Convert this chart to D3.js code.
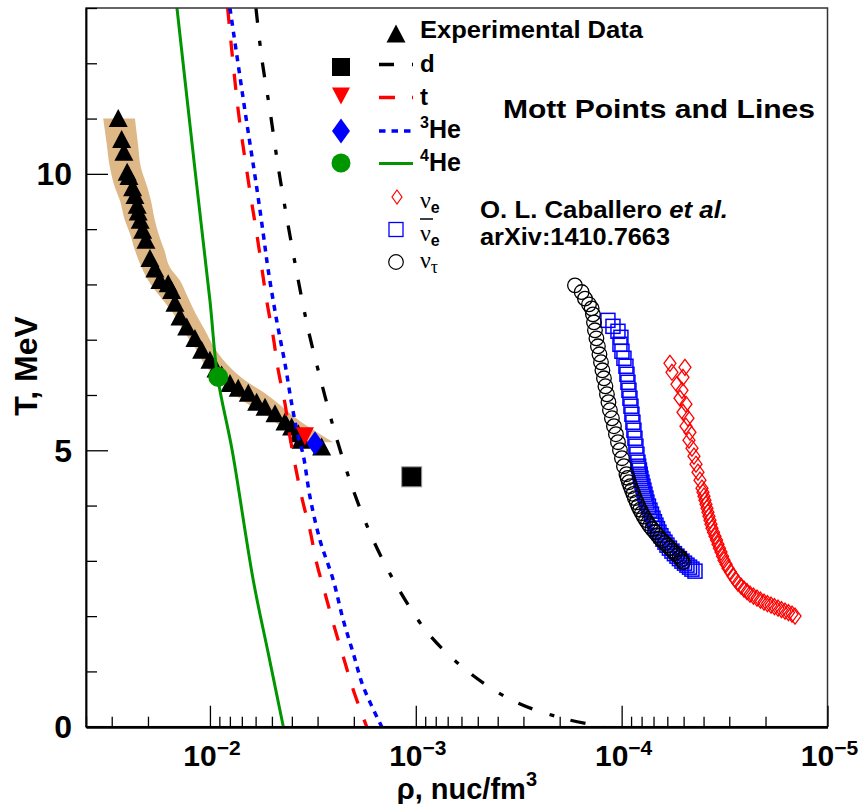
<!DOCTYPE html>
<html><head><meta charset="utf-8">
<script src="https://cdn.jsdelivr.net/npm/d3@7"></script>
<style>
body{margin:0;background:#fff}
svg{display:block}
text{font-family:"Liberation Sans",Arial,Helvetica,sans-serif;font-weight:bold;fill:#000}
</style>
</head><body>
<svg id="c" width="861" height="804"></svg>
<script>
// ---------------- DATA ----------------
// Experimental data (triangles): density rho [nuc/fm^3], temperature T [MeV]
const expRho = [0.02789,0.02685,0.02618,0.02524,0.02474,0.02374,0.02314,0.02256,0.02231,0.02182,0.02123,0.02046,0.01956,0.01851,0.01750,0.01595,0.01535,0.01479,0.01398,0.01297,0.01183,0.01097,0.0100,0.00935,0.00877,0.00799,0.00729,0.00651,0.00593,0.00540,0.00483,0.00432,0.00401,0.00372,0.003612,0.002866];
const expT   = [11.0,10.62,10.39,10.03,9.95,9.75,9.61,9.43,9.31,9.16,8.98,8.80,8.47,8.28,8.07,8.01,7.89,7.66,7.41,7.23,7.02,6.81,6.63,6.47,6.36,6.21,6.12,6.03,5.87,5.78,5.66,5.51,5.42,5.30,5.18,5.06];

// Error band around experimental data
const bandT       = [11.0,10.549,10.116,9.754,9.519,9.158,8.923,8.616,8.308,8.073,7.784,7.477,7.170,6.808,6.501,6.266,6.031,5.850,5.669,5.489,5.362,5.236,5.146];
const bandRhoHigh = [0.03299,0.03176,0.03061,0.02894,0.02737,0.02588,0.02447,0.02314,0.02147,0.01994,0.01750,0.01508,0.01348,0.01160,0.01038,0.008941,0.007706,0.006632,0.005508,0.004741,0.004239,0.003937,0.003653];
const bandRhoLow  = [0.02314,0.02238,0.02164,0.02012,0.01935,0.01851,0.01780,0.01664,0.01564,0.01399,0.01286,0.01176,0.01057,0.009350,0.007995,0.006760,0.005406,0.004673,0.004087,0.003532,0.003124,0.002762,0.002517];

// Mott points [rho, T]
const mottD   = [0.001047, 4.52];
const mottT   = [0.003455, 5.254];
const mottHe3 = [0.003088, 5.127];
const mottHe4 = [0.009113, 6.326];

// Mott lines [rho, T]
const lineD = [[0.005977,13.0],[0.005609,12.109],[0.005110,11.145],[0.004657,10.121],[0.004211,9.158],[0.003749,8.133],[0.003329,7.179],[0.002866,6.206],[0.002442,5.254],[0.002026,4.309],[0.001609,3.374],[0.001216,2.501],[0.000870,1.688],[0.000556,0.994],[0.0003296,0.452],[0.0001848,0.134],[0.0001227,0.0]];
const lineT = [[0.008203,13.0],[0.007287,11.145],[0.006514,9.88],[0.005824,8.737],[0.005302,7.712],[0.004925,7.049],[0.004657,6.447],[0.004320,5.845],[0.004086,5.241],[0.003584,4.157],[0.003266,3.555],[0.003031,2.959],[0.002762,2.416],[0.002517,1.869],[0.002251,1.265],[0.002012,0.663],[0.001732,0.0]];
const lineHe3 = [[0.007994,13.0],[0.006760,11.145],[0.005931,9.76],[0.005508,8.917],[0.005208,8.254],[0.004741,7.35],[0.004320,6.568],[0.004009,5.845],[0.003723,5.241],[0.003521,4.911],[0.003266,4.157],[0.002920,3.374],[0.002517,2.651],[0.002251,1.928],[0.002012,1.327],[0.001799,0.723],[0.001464,0.0]];
const lineHe4 = [[0.01446,13.0],[0.01176,10.0],[0.0100,7.71],[0.00918,6.33],[0.0078,5.0],[0.00616,2.65],[0.00521,1.33],[0.0044,0.0]];

// Caballero et al. neutrino sphere points [rho, T]
const nuE = [[0.5826e-4,6.573],[0.5696e-4,6.411],[0.4925e-4,6.501],[0.5036e-4,6.320],[0.5386e-4,6.194],[0.5093e-4,6.085],[0.5208e-4,5.941],[0.4871e-4,5.833],[0.5036e-4,5.688],[0.4763e-4,5.580],[0.4871e-4,5.435],[0.4657e-4,5.326],[0.4710e-4,5.182],[0.4554e-4,5.037],[0.4453e-4,4.893],[0.4355e-4,4.748],[0.4258e-4,4.604],[0.4164e-4,4.459],[0.4072e-4,4.314],[0.4027e-4,4.242],[0.3982e-4,4.170],[0.3938e-4,4.097],[0.3894e-4,4.025],[0.3851e-4,3.953],[0.3808e-4,3.881],[0.3766e-4,3.808],[0.3724e-4,3.736],[0.3682e-4,3.663],[0.3641e-4,3.591],[0.358e-4,3.519],[0.3521e-4,3.447],[0.346e-4,3.375],[0.3404e-4,3.302],[0.335e-4,3.23],[0.3292e-4,3.158],[0.3237e-4,3.085],[0.3183e-4,3.013],[0.311e-4,2.94],[0.3044e-4,2.868],[0.296e-4,2.796],[0.2878e-4,2.724],[0.280e-4,2.66],[0.2722e-4,2.597],[0.263e-4,2.543],[0.2544e-4,2.489],[0.246e-4,2.443],[0.2379e-4,2.398],[0.229e-4,2.362],[0.2200e-4,2.326],[0.2117e-4,2.29],[0.2035e-4,2.254],[0.1958e-4,2.227],[0.1881e-4,2.200],[0.181e-4,2.172],[0.1739e-4,2.145],[0.1673e-4,2.118],[0.1608e-4,2.091],[0.1547e-4,2.064],[0.1487e-4,2.037],[0.1438e-4,2.001]];
const nuEbar = [[1.166e-4,7.350],[1.102e-4,7.242],[1.042e-4,7.152],[1.008e-4,7.043],[1.019e-4,6.917],[0.9966e-4,6.791],[0.9746e-4,6.664],[0.9530e-4,6.520],[0.9424e-4,6.375],[0.9320e-4,6.230],[0.9216e-4,6.086],[0.9113e-4,5.941],[0.9012e-4,5.797],[0.8913e-4,5.652],[0.8814e-4,5.507],[0.8716e-4,5.363],[0.8619e-4,5.218],[0.8524e-4,5.074],[0.8429e-4,4.929],[0.8334e-4,4.785],[0.8265e-4,4.712],[0.8195e-4,4.640],[0.8127e-4,4.567],[0.8059e-4,4.495],[0.797e-4,4.423],[0.7881e-4,4.351],[0.7794e-4,4.278],[0.7707e-4,4.206],[0.762e-4,4.134],[0.7537e-4,4.062],[0.741e-4,3.99],[0.7286e-4,3.917],[0.7165e-4,3.845],[0.7045e-4,3.772],[0.693e-4,3.708],[0.6812e-4,3.645],[0.670e-4,3.582],[0.6589e-4,3.519],[0.6445e-4,3.455],[0.6300e-4,3.392],[0.616e-4,3.338],[0.6024e-4,3.284],[0.586e-4,3.23],[0.5696e-4,3.176],[0.554e-4,3.13],[0.5386e-4,3.085],[0.524e-4,3.04],[0.5093e-4,2.995],[0.495e-4,2.958],[0.4816e-4,2.922],[0.468e-4,2.886],[0.4554e-4,2.850],[0.4403e-4,2.814]];
const nuTau = [[1.686e-4,7.983],[1.564e-4,7.862],[1.507e-4,7.743],[1.441e-4,7.640],[1.399e-4,7.567],[1.379e-4,7.459],[1.363e-4,7.314],[1.348e-4,7.170],[1.326e-4,7.025],[1.304e-4,6.881],[1.282e-4,6.736],[1.260e-4,6.592],[1.240e-4,6.447],[1.219e-4,6.302],[1.199e-4,6.158],[1.179e-4,6.013],[1.159e-4,5.869],[1.140e-4,5.724],[1.115e-4,5.579],[1.090e-4,5.435],[1.066e-4,5.290],[1.042e-4,5.146],[1.019e-4,5.001],[0.9966e-4,4.857],[0.9746e-4,4.712],[0.9477e-4,4.567],[0.935e-4,4.50],[0.9216e-4,4.423],[0.907e-4,4.35],[0.8913e-4,4.278],[0.877e-4,4.21],[0.8619e-4,4.134],[0.845e-4,4.06],[0.8287e-4,3.989],[0.813e-4,3.925],[0.7969e-4,3.862],[0.780e-4,3.80],[0.7619e-4,3.736],[0.745e-4,3.68],[0.7286e-4,3.627],[0.709e-4,3.573],[0.6890e-4,3.519],[0.670e-4,3.465],[0.6515e-4,3.410],[0.634e-4,3.365],[0.6161e-4,3.320],[0.599e-4,3.275],[0.5826e-4,3.230],[0.566e-4,3.185],[0.5508e-4,3.139],[0.536e-4,3.10],[0.5208e-4,3.067],[0.512e-4,3.02],[0.5036e-4,2.977]];

// Axis ticks
const xMajor = [1e-2,1e-3,1e-4,1e-5];
const xMinor = [0.04,0.03,0.02,9e-3,8e-3,7e-3,6e-3,5e-3,4e-3,3e-3,2e-3,9e-4,8e-4,7e-4,6e-4,5e-4,4e-4,3e-4,2e-4,9e-5,8e-5,7e-5,6e-5,5e-5,4e-5,3e-5,2e-5];
const yMajor = [0,5,10];
const yMinor = [1,2,3,4,6,7,8,9,11,12,13];

// ---------------- DRAW ----------------
const svg = d3.select("#c");
const L=86, R=827.5, T0=8, B=726.7;
const x = d3.scaleLog().domain([0.04,1e-5]).range([L,R]);
const y = d3.scaleLinear().domain([0,13]).range([B,T0]);

svg.append("defs").append("clipPath").attr("id","clip")
  .append("rect").attr("x",L).attr("y",T0).attr("width",R-L).attr("height",B-T0);
const plot = svg.append("g").attr("clip-path","url(#clip)");

// frame
svg.append("rect").attr("x",L).attr("y",T0).attr("width",R-L).attr("height",B-T0)
  .attr("fill","none").attr("stroke","#333").attr("stroke-width",1.5);

// band
const band = bandT.map((t,i)=>({T:t,hi:bandRhoHigh[i],lo:bandRhoLow[i]}));
plot.append("path").datum(band)
  .attr("d", d3.area().y(d=>y(d.T)).x0(d=>x(d.hi)).x1(d=>x(d.lo)).curve(d3.curveMonotoneY))
  .attr("fill","#deb887");

// experimental triangles
const triUp = (cx,cy,w,h)=>`M${cx},${cy-h/2-1}L${cx+w/2},${cy+h/2}L${cx-w/2},${cy+h/2}Z`;
plot.selectAll("path.exp").data(expRho.map((r,i)=>[r,expT[i]])).join("path")
  .attr("class","exp").attr("d",d=>triUp(x(d[0]),y(d[1]),19,17)).attr("fill","#000");

// Mott lines
const lg = d3.line().x(d=>x(d[0])).y(d=>y(d[1])).curve(d3.curveCatmullRom);
plot.append("path").datum(lineHe4).attr("d",lg).attr("fill","none").attr("stroke","#009600").attr("stroke-width",3);
plot.append("path").datum(lineT).attr("d",lg).attr("fill","none").attr("stroke","#ff0000").attr("stroke-width",3.3).attr("stroke-dasharray","16,17");
plot.append("path").datum(lineHe3).attr("d",lg).attr("fill","none").attr("stroke","#0000ff").attr("stroke-width",3.5).attr("stroke-dasharray","6,6");
plot.append("path").datum(lineD).attr("d",lg).attr("fill","none").attr("stroke","#000").attr("stroke-width",3.3).attr("stroke-dasharray","15,18,5,17");

// neutrino markers
const diamond = (cx,cy,w,h)=>`M${cx},${cy-h/2}L${cx+w/2},${cy}L${cx},${cy+h/2}L${cx-w/2},${cy}Z`;
plot.selectAll("rect.nueb").data(nuEbar).join("rect").attr("class","nueb")
  .attr("x",d=>x(d[0])-7).attr("y",d=>y(d[1])-7).attr("width",14).attr("height",14)
  .attr("fill","none").attr("stroke","#0000ff").attr("stroke-width",1.5);
plot.selectAll("circle.nut").data(nuTau).join("circle").attr("class","nut")
  .attr("cx",d=>x(d[0])).attr("cy",d=>y(d[1])).attr("r",7.3)
  .attr("fill","none").attr("stroke","#000").attr("stroke-width",1.3);
plot.selectAll("path.nue").data(nuE).join("path").attr("class","nue")
  .attr("d",d=>diamond(x(d[0]),y(d[1]),12,16))
  .attr("fill","none").attr("stroke","#ff0000").attr("stroke-width",1.3);

// Mott points
const triDown = (cx,cy,w,h)=>`M${cx-w/2},${cy-h/2}L${cx+w/2},${cy-h/2}L${cx},${cy+h/2}Z`;
plot.append("rect").attr("x",x(mottD[0])-10).attr("y",y(mottD[1])-10).attr("width",20).attr("height",20)
  .attr("fill","#000").attr("stroke","#999").attr("stroke-width",1);
plot.append("path").attr("d",triDown(x(mottT[0]),y(mottT[1]),18,18)).attr("fill","#ff0000");
plot.append("path").attr("d",diamond(x(mottHe3[0]),y(mottHe3[1]),17,24)).attr("fill","#0000ff");
plot.append("circle").attr("cx",x(mottHe4[0])).attr("cy",y(mottHe4[1])).attr("r",10).attr("fill","#009600");

// axes
function styleAxis(g,w){ g.selectAll("line").attr("stroke","#000").attr("stroke-width",1.3); g.select(".domain").attr("stroke","#000").attr("stroke-width",w); }
svg.append("g").attr("transform",`translate(0,${B})`)
  .call(d3.axisBottom(x).tickValues(xMinor).tickSize(-10).tickSizeOuter(0).tickFormat(""))
  .call(g=>styleAxis(g,2.5));
svg.append("g").attr("transform",`translate(0,${B})`)
  .call(d3.axisBottom(x).tickValues(xMajor).tickSize(-21).tickSizeOuter(0).tickFormat(""))
  .call(g=>{styleAxis(g,2.5);});
svg.append("g").attr("transform",`translate(${L},0)`)
  .call(d3.axisLeft(y).tickValues(yMinor).tickSize(-11).tickSizeOuter(0).tickFormat(""))
  .call(g=>styleAxis(g,1.5));
svg.append("g").attr("transform",`translate(${L},0)`)
  .call(d3.axisLeft(y).tickValues(yMajor).tickSize(-22).tickSizeOuter(0).tickFormat(""))
  .call(g=>styleAxis(g,1.5));

// tick labels
yMajor.forEach(v=>{
  svg.append("text").attr("x",72).attr("y",y(v)+11.5).attr("text-anchor","end")
    .attr("font-size",32).text(v);
});
xMajor.forEach(v=>{
  const e = Math.round(Math.log10(v));
  const t = svg.append("text").attr("x",x(v)+2).attr("y",766).attr("text-anchor","middle");
  t.append("tspan").attr("font-size",30).text("10");
  t.append("tspan").attr("font-size",21).attr("dy",-11).text("\u2212"+Math.abs(e));
});

// axis titles
const xt = svg.append("text").attr("x",537).attr("y",799).attr("text-anchor","end").attr("font-size",29);
xt.append("tspan").text("\u03c1, nuc/fm");
xt.append("tspan").attr("font-size",20).attr("dy",-13).text("3");
svg.append("text").attr("transform","translate(37,366) rotate(-90)").attr("text-anchor","middle")
  .attr("font-size",32).text("T, MeV");

// legend
const lgd = svg.append("g");
lgd.append("path").attr("d",triUp(396,34,19,17)).attr("fill","#000");
lgd.append("text").attr("x",420).attr("y",38).attr("font-size",24).attr("textLength",223).attr("lengthAdjust","spacingAndGlyphs").text("Experimental Data");

lgd.append("rect").attr("x",332).attr("y",58).attr("width",18).attr("height",18).attr("fill","#000");
lgd.append("path").attr("d",triDown(341,96,18,17)).attr("fill","#ff0000");
lgd.append("path").attr("d",diamond(341,131,18,25)).attr("fill","#0000ff");
lgd.append("circle").attr("cx",341).attr("cy",163).attr("r",9.5).attr("fill","#009600");

lgd.append("line").attr("x1",379).attr("x2",413).attr("y1",64.5).attr("y2",64.5).attr("stroke","#000").attr("stroke-width",3.3).attr("stroke-dasharray","15,18,5,17");
lgd.append("line").attr("x1",379).attr("x2",413).attr("y1",97.5).attr("y2",97.5).attr("stroke","#ff0000").attr("stroke-width",3.3).attr("stroke-dasharray","16,17");
lgd.append("line").attr("x1",379).attr("x2",413).attr("y1",131).attr("y2",131).attr("stroke","#0000ff").attr("stroke-width",3.5).attr("stroke-dasharray","6.5,6");
lgd.append("line").attr("x1",379).attr("x2",413).attr("y1",163.5).attr("y2",163.5).attr("stroke","#009600").attr("stroke-width",3);

lgd.append("text").attr("x",420).attr("y",72).attr("font-size",24).text("d");
lgd.append("text").attr("x",420).attr("y",105).attr("font-size",24).text("t");
const he3 = lgd.append("text").attr("x",420).attr("y",138).attr("font-size",25);
he3.append("tspan").attr("font-size",16).attr("dy",-10).text("3");
he3.append("tspan").attr("dy",10).text("He");
const he4 = lgd.append("text").attr("x",420).attr("y",171).attr("font-size",25);
he4.append("tspan").attr("font-size",16).attr("dy",-10).text("4");
he4.append("tspan").attr("dy",10).text("He");

lgd.append("path").attr("d",diamond(397,197,10,14)).attr("fill","none").attr("stroke","#ff0000").attr("stroke-width",1.2);
lgd.append("rect").attr("x",389).attr("y",222.5).attr("width",14).attr("height",14).attr("fill","none").attr("stroke","#0000ff").attr("stroke-width",1.3);
lgd.append("circle").attr("cx",396).attr("cy",262).attr("r",7.3).attr("fill","none").attr("stroke","#000").attr("stroke-width",1.2);

function nuLabel(yb, sub, subSerif, bar){
  const t = lgd.append("text").attr("x",420).attr("y",yb);
  t.append("tspan").attr("font-family","'Liberation Serif','DejaVu Serif',serif").attr("font-weight","normal").attr("font-size",24).text("\u03bd");
  const s = t.append("tspan").attr("font-size",16).attr("dy",5).text(sub);
  if(subSerif) s.attr("font-family","'Liberation Serif','DejaVu Serif',serif").attr("font-weight","normal").attr("font-size",18);
  if(bar) lgd.append("line").attr("x1",420).attr("x2",433).attr("y1",219).attr("y2",219).attr("stroke","#000").attr("stroke-width",1.5);
}
nuLabel(208,"e",false,false);
nuLabel(241,"e",false,true);
nuLabel(268,"\u03c4",true,false);

// annotations
svg.append("text").attr("x",503).attr("y",118).attr("font-size",26).attr("textLength",312).attr("lengthAdjust","spacingAndGlyphs").text("Mott Points and Lines");
const ca = svg.append("text").attr("x",480).attr("y",218).attr("font-size",23).attr("textLength",248).attr("lengthAdjust","spacingAndGlyphs");
ca.append("tspan").text("O. L. Caballero ");
ca.append("tspan").attr("font-style","italic").text(" et al.");
svg.append("text").attr("x",480).attr("y",245).attr("font-size",23).attr("textLength",190).attr("lengthAdjust","spacingAndGlyphs").text("arXiv:1410.7663");
</script>
</body></html>
